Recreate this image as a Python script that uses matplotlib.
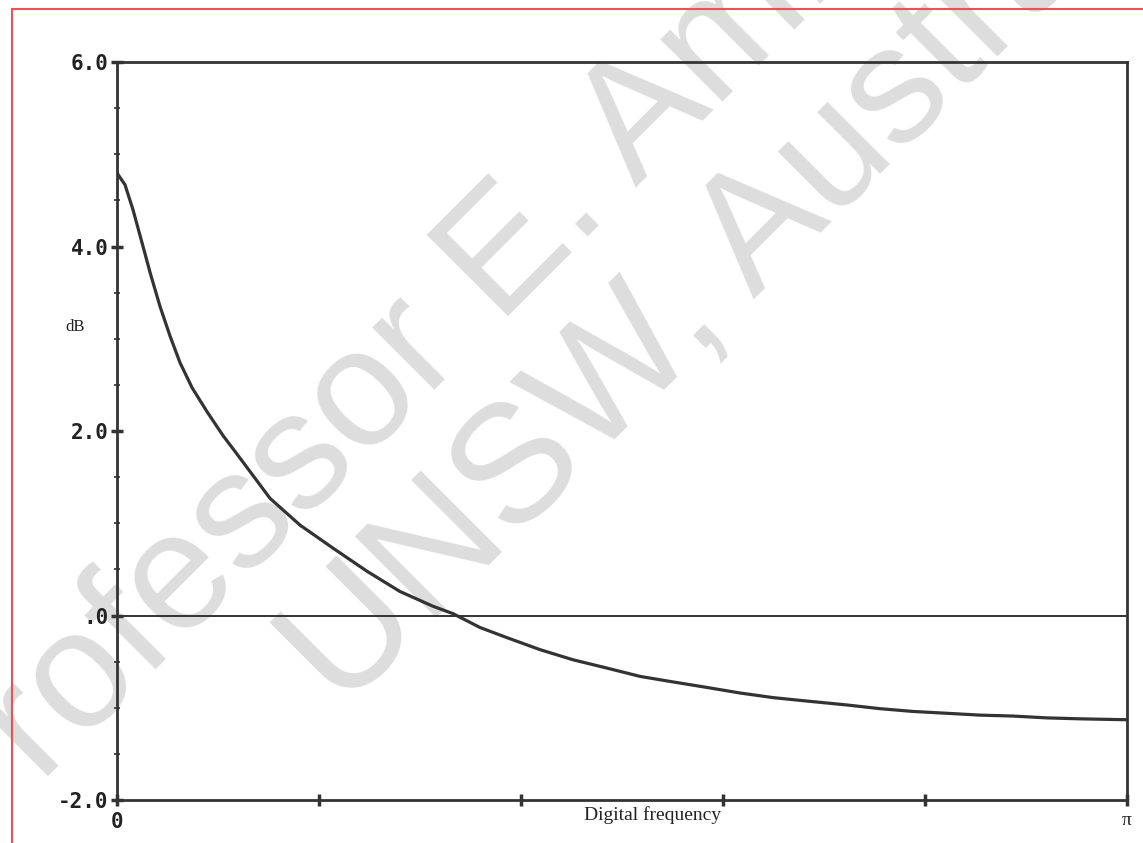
import numpy as np
import matplotlib
matplotlib.use("Agg")
import matplotlib.pyplot as plt
from matplotlib.lines import Line2D

# Data (frequency as fraction of pi, response in dB)
freq_frac = [0.0, 0.001, 0.0079, 0.0158, 0.0248, 0.0327, 0.0426, 0.0525,
             0.0624, 0.0743, 0.0891, 0.105, 0.1188, 0.1515, 0.1812, 0.2139,
             0.2475, 0.2802, 0.3129, 0.3327, 0.3594, 0.3861, 0.4188, 0.4515,
             0.4851, 0.5178, 0.5505, 0.5842, 0.6168, 0.6495, 0.6762, 0.7228,
             0.7554, 0.7881, 0.8218, 0.8545, 0.8871, 0.9208, 0.9535, 1.0]
gain_db = [4.81, 4.78, 4.67, 4.40, 4.04, 3.72, 3.35, 3.03,
           2.74, 2.47, 2.21, 1.95, 1.75, 1.27, 0.98, 0.73,
           0.48, 0.26, 0.10, 0.02, -0.13, -0.24, -0.37, -0.48,
           -0.57, -0.66, -0.72, -0.78, -0.84, -0.89, -0.92, -0.97,
           -1.01, -1.04, -1.06, -1.08, -1.09, -1.11, -1.12, -1.13]
y_ticks = [-2.0, 0.0, 2.0, 4.0, 6.0]
y_tick_labels = ["-2.0", ".0", "2.0", "4.0", "6.0"]
x_tick_fracs = [0.0, 0.2, 0.4, 0.6, 0.8, 1.0]
x_tick_labels = ["0", "", "", "", "", "π"]

W, H = 1143, 843
fig = plt.figure(figsize=(W / 100, H / 100), dpi=100)
fig.patch.set_facecolor("white")

ax = fig.add_axes([117 / W, 1 - 800 / H, (1127 - 117) / W, (800 - 62) / H])
ax.set_facecolor("none")
ax.set_zorder(2)
ink = "#333333"

x = np.array(freq_frac) * np.pi
ax.plot(x, gain_db, color=ink, lw=2.3, solid_capstyle="round",
        solid_joinstyle="round", zorder=3)
ax.axhline(0.0, color=ink, lw=1.4, zorder=2)

ax.set_xlim(0, np.pi)
ax.set_ylim(-2.0, 6.0)

for s in ax.spines.values():
    s.set_color(ink)
    s.set_linewidth(2.0)

ax.set_yticks(y_ticks)
ax.set_yticklabels(y_tick_labels)
ax.set_yticks(np.arange(-2.0, 6.01, 0.5), minor=True)
ax.set_xticks(np.array(x_tick_fracs) * np.pi)
ax.set_xticklabels(x_tick_labels)

ax.tick_params(axis="y", which="major", direction="inout", length=8, width=2.5,
               color=ink, pad=2, labelsize=15, labelcolor="#222222")
ax.tick_params(axis="y", which="minor", direction="inout", length=4, width=1.2,
               color=ink)
ax.tick_params(axis="x", which="major", direction="inout", length=9, width=2.5,
               color=ink, pad=4, labelsize=15, labelcolor="#222222")
ax.tick_params(top=False, right=False)

for lab in ax.get_yticklabels():
    lab.set_fontfamily("DejaVu Sans Mono")
    lab.set_fontweight("bold")
xl = ax.get_xticklabels()
xl[0].set_fontfamily("DejaVu Sans Mono")
xl[0].set_fontweight("bold")
xl[0].set_fontsize(15)
xl[-1].set_fontfamily("Liberation Serif")
xl[-1].set_fontsize(14)

# axis texts
fig.text(653 / W, 1 - 815 / H, "Digital frequency", family="Liberation Serif",
         fontsize=14, color="#222222", ha="center", va="center", zorder=3)
fig.text(75 / W, 1 - 327 / H, "dB", family="Liberation Serif",
         fontsize=12, color="#222222", ha="center", va="center", zorder=3)

# watermark
wm = dict(family="Liberation Sans", fontsize=120, color="#dddddd",
          rotation=45, rotation_mode="anchor", ha="left", va="baseline",
          zorder=1)
fig.text(-38 / W, 1 - 862 / H, "Professor E. Ambikairajah", **wm)
fig.text(342 / W, 1 - 712 / H, "UNSW, Australia", **wm)

# red frame (top and left edges visible)
fig.add_artist(Line2D([12 / W, 1.0], [1 - 9 / H, 1 - 9 / H], color="#f05050",
                      lw=1.5, transform=fig.transFigure, zorder=4))
fig.add_artist(Line2D([12 / W, 12 / W], [0.0, 1 - 9 / H], color="#f05050",
                      lw=1.5, transform=fig.transFigure, zorder=4))

fig.savefig("out.png", dpi=100, facecolor="white")
